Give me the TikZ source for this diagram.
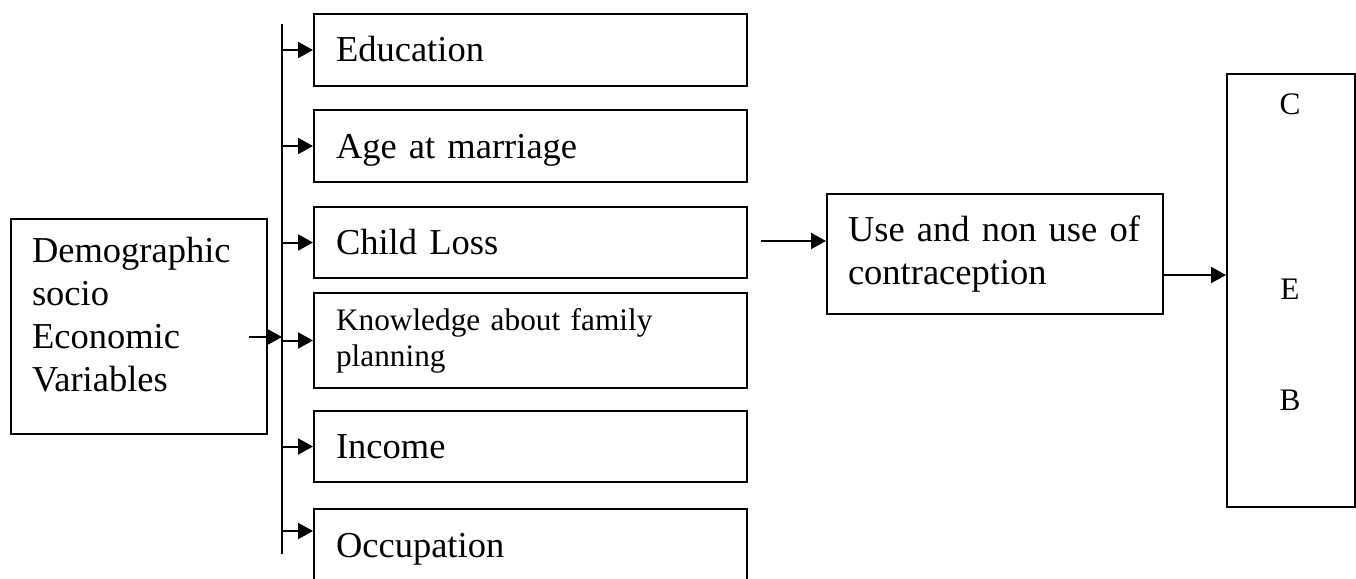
\documentclass[tikz,border=0pt]{standalone}
\usepackage{fontspec}
\setmainfont{Liberation Serif}
\usetikzlibrary{calc,positioning}
\usetikzlibrary{arrows.meta}

\newcommand{\bigtxt}{\fontsize{36.5}{43}\selectfont}
\newcommand{\smalltxt}{\fontsize{31.3}{36}\selectfont}

\tikzset{
    box/.style={draw, line width=2pt, anchor=north west, inner xsep=21pt, inner ysep=0pt, align=left},
    varbox/.style={box, minimum width=433pt, text width=389pt, text height=30pt, text depth=6pt, font=\bigtxt},
    arr/.style={line width=2pt, -{Triangle[length=15pt,width=16pt]}}
}

\begin{document}
\begin{tikzpicture}[x=1pt,y=-1pt]
        \clip (0,0) rectangle (1356,578);
        
        \node[box, minimum width=256pt, minimum height=215pt, text width=214pt, font=\bigtxt] (demo) at (10,218)
            {Demographic\\socio\\Economic\\Variables\rule[-24pt]{0pt}{24pt}};
        
        \node[varbox, minimum height=72pt] (edu) at (313,13) {Education};
        \node[varbox, minimum height=72pt] (age) at (313,109) {Age at marriage};
        \node[varbox, minimum height=71pt] (child) at (313,206) {Child Loss};
        \node[box, minimum width=433pt, minimum height=95pt, text width=389pt, font=\smalltxt] (know) at (313,292)
            {Knowledge about family\\planning};
        \node[varbox, minimum height=71pt] (income) at (313,410) {Income};
        \node[varbox, minimum height=72pt] (occ) at (313,508) {Occupation};
        
        \node[box, minimum width=336pt, minimum height=120pt, text width=294pt, font=\bigtxt] (use) at (826,193)
            {Use and non use of\\contraception};
        
        \node[box, minimum width=128pt, minimum height=433pt] (ceb) at (1226,73) {};
        \node[font=\smalltxt] (c) at (1290,104) {C};
        \node[font=\smalltxt] (e) at (1290,289) {E};
        \node[font=\smalltxt] (b) at (1290,400) {B};
        
        \coordinate (bustop) at (282,24);
        \coordinate (busbot) at (282,554);
        \coordinate (src) at (249,337);
        \coordinate (usetail) at (761,241);
        
        \draw[line width=2pt] (bustop) -- (busbot);
        \draw[arr] (src) -- (src -| bustop);
        
        \foreach \b in {edu,age,child,know,income}
            {
                \draw[arr] (\b.west -| bustop) -- (\b.west);
            };
        \draw[arr] ([yshift=14pt]occ.west -| bustop) -- ([yshift=14pt]occ.west);
        
        \draw[arr] (usetail) -- (usetail -| use.west);
        \draw[arr] ([yshift=-21pt]use.east) -- ([yshift=-21pt]use.east -| ceb.west);
    \end{tikzpicture}
\end{document}
